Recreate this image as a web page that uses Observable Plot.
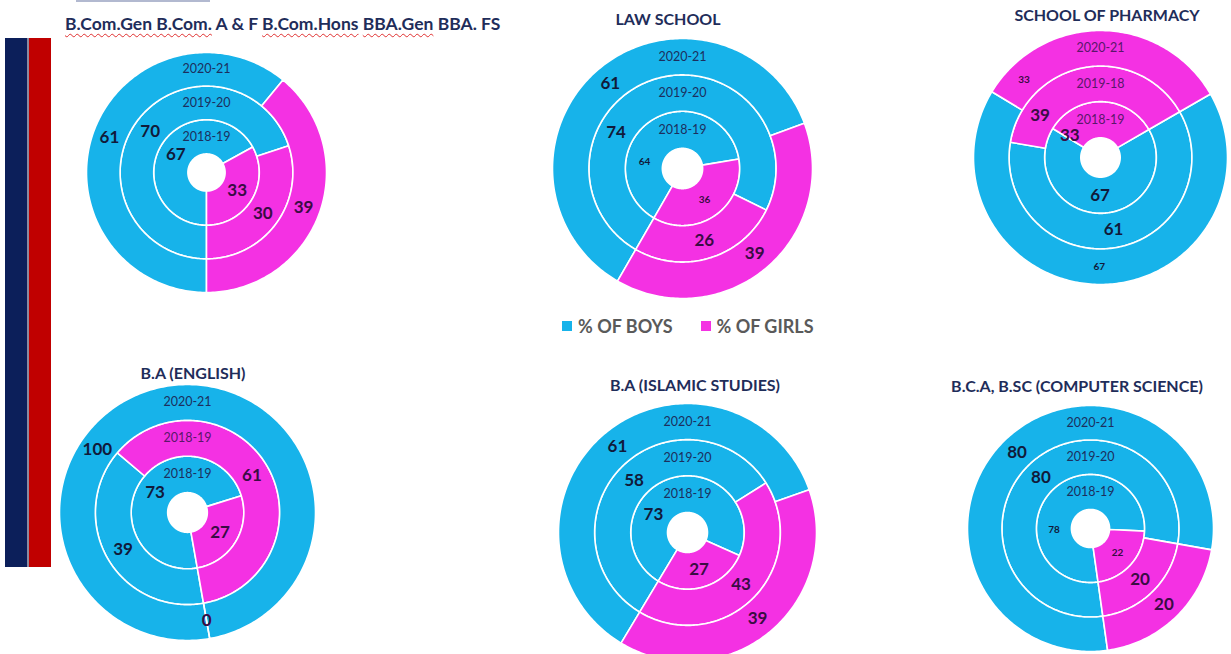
<!DOCTYPE html>
<html>
<head>
<meta charset="utf-8">
<script src="https://cdn.jsdelivr.net/npm/d3@7"></script>
<script src="https://cdn.jsdelivr.net/npm/@observablehq/plot@0.6"></script>
<style>
  html, body { margin: 0; padding: 0; background: #fff; }
  body { width: 1231px; height: 654px; position: relative; overflow: hidden; font-family: Lato, "Open Sans", sans-serif; }
  .abs { position: absolute; }
  .title { position: absolute; font-weight: bold; color: #1f2d5a; font-size: 16px; line-height: 20px; white-space: nowrap; }
  .title.first { font-size: 17.5px; }
  .sp { text-decoration: underline wavy #e03030; text-decoration-thickness: 1px; text-underline-offset: 3px; }
  .legend { position: absolute; top: 316px; left: 562px; display: flex; align-items: center; font-weight: bold; font-size: 18px; color: #5a5a5a; line-height: 20px; }
  .legend .sw { width: 10px; height: 10px; display: inline-block; margin-right: 6px; }
  .legend .item { display: flex; align-items: center; margin-right: 28px; }
</style>
</head>
<body>
<script>
// ---------- data ----------
const programs = [
  "B.Com.Gen B.Com. A & F B.Com.Hons BBA.Gen BBA. FS",
  "LAW SCHOOL",
  "SCHOOL OF PHARMACY",
  "B.A (ENGLISH)",
  "B.A (ISLAMIC STUDIES)",
  "B.C.A, B.SC (COMPUTER SCIENCE)"
];
// ring labels, inner -> outer
const yearLabels = [
  ["2018-19", "2019-20", "2020-21"],
  ["2018-19", "2019-20", "2020-21"],
  ["2018-19", "2019-18", "2020-21"],
  ["2018-19", "2018-19", "2020-21"],
  ["2018-19", "2019-20", "2020-21"],
  ["2018-19", "2019-20", "2020-21"]
];
const boysPct = [
  [67, 70, 61],
  [64, 74, 61],
  [67, 61, 67],
  [73, 39, 100],
  [73, 58, 61],
  [78, 80, 80]
];
const girlsPct = [
  [33, 30, 39],
  [36, 26, 39],
  [33, 39, 33],
  [27, 61, 0],
  [27, 43, 39],
  [22, 20, 20]
];
const series = ["% OF BOYS", "% OF GIRLS"];

// ---------- layout & style ----------
const BLUE = "#17b3ea", PINK = "#f431e3";
const layout = [
  { cx: 206,  cy: 172, r: 120, start: 180, title: { left: 65, y: 24 }, small: [] },
  { cx: 682,  cy: 168, r: 130, start: 210, title: { x: 668, y: 19 }, small: [0] },
  { cx: 1100, cy: 157, r: 127, start: 60,  title: { x: 1107, y: 15 }, small: [2] },
  { cx: 187,  cy: 512, r: 128, start: 170, title: { x: 193, y: 373 }, small: [] },
  { cx: 687,  cy: 532, r: 129, start: 211, title: { x: 695, y: 385 }, small: [] },
  { cx: 1090, cy: 528, r: 123, start: 172, title: { x: 1077, y: 386 }, small: [0] }
];
const ringFrac = [0.155, 0.44, 0.72, 1.0];
const valueColor = ["#111a3a", "#3a0c44"];
const yearColor = ["#1c2f5e", "#5a176a"];
const yearFont = 12.5, valueFont = 17, smallFont = 10;

// decorations
function addDiv(css, html) {
  const d = document.createElement("div");
  d.className = "abs";
  d.style.cssText = css;
  if (html) d.innerHTML = html;
  document.body.appendChild(d);
  return d;
}
addDiv("left:5px;top:38px;width:22px;height:529px;background:#0c1f5a;");
addDiv("left:29px;top:38px;width:22px;height:529px;background:#c00000;");
addDiv("left:27px;top:38px;width:2px;height:529px;background:#8a8aa0;");
addDiv("left:12px;top:-30px;width:30px;height:30px;border-radius:50%;border:3px solid #c8102e;box-sizing:border-box;");
addDiv("left:76px;top:0px;width:134px;height:2px;background:#7f8bb0;opacity:0.6;");

const TAU = Math.PI * 2, DEG = Math.PI / 180;
function norm(a) { return ((a % TAU) + TAU) % TAU; }

function buildPanel(k) {
  const L = layout[k], R = L.r, pad = 4, S = 2 * (R + pad);
  const pts = [], vlabels = [], ylabels = [];
  for (let i = 0; i < 3; i++) {
    const r0 = ringFrac[i] * R, r1 = ringFrac[i + 1] * R, rm = (r0 + r1) / 2;
    const vals = [boysPct[k][i], girlsPct[k][i]];
    const arcs = d3.pie().sort(null)
      .startAngle(L.start * DEG).endAngle(L.start * DEG + TAU)(vals);
    arcs.forEach((a, j) => {
      const id = `${i}-${j}`;
      const span = a.endAngle - a.startAngle;
      const n = Math.max(1, Math.ceil(span / DEG));
      const ring = [];
      for (let s = 0; s <= n; s++) {
        const t = a.startAngle + span * s / n;
        ring.push({ id, group: series[j], x: r1 * Math.sin(t), y: -r1 * Math.cos(t) });
      }
      for (let s = n; s >= 0; s--) {
        const t = a.startAngle + span * s / n;
        ring.push({ id, group: series[j], x: r0 * Math.sin(t), y: -r0 * Math.cos(t) });
      }
      ring.push({ ...ring[0] });
      pts.push(...ring);
      // value label at slice centroid; rotated aside if it would cover the ring's year label
      let m = (a.startAngle + a.endAngle) / 2;
      const hits = ang => Math.abs(rm * Math.sin(ang)) < 32 && Math.abs(-rm * Math.cos(ang) + rm) < 14;
      if (hits(m)) {
        m -= 45 * DEG;
        let guard = 0;
        while (hits(m) && guard++ < 12) m -= 5 * DEG;
      }
      vlabels.push({
        text: String(vals[j]), group: j,
        x: rm * Math.sin(m), y: -rm * Math.cos(m),
        size: L.small.includes(i) ? smallFont : valueFont
      });
    });
    const topSlice = arcs.findIndex(a => a.endAngle > a.startAngle && norm(0 - a.startAngle) < a.endAngle - a.startAngle);
    ylabels.push({ text: yearLabels[k][i], group: topSlice < 0 ? 0 : topSlice, x: 0, y: -rm });
  }
  const plot = Plot.plot({
    width: S, height: S, margin: 0,
    x: { domain: [-(R + pad), R + pad], range: [0, S], axis: null },
    y: { domain: [-(R + pad), R + pad], range: [0, S], axis: null },
    color: { domain: series, range: [BLUE, PINK] },
    style: { background: "transparent", overflow: "visible", fontFamily: "Lato" },
    marks: [
      Plot.line(pts, { x: "x", y: "y", z: "id", fill: "group", stroke: "white", strokeWidth: 1.6, strokeLinejoin: "round" }),
      ...[0, 1].map(g => Plot.text(ylabels.filter(d => d.group === g), {
        x: "x", y: "y", text: "text", fontSize: yearFont, fill: yearColor[g], fontFamily: "Lato"
      })),
      ...[0, 1].map(g => Plot.text(vlabels.filter(d => d.group === g), {
        x: "x", y: "y", text: "text", fontSize: d => d.size, fill: valueColor[g], fontWeight: "bold", fontFamily: "Lato"
      }))
    ]
  });
  const holder = addDiv(`left:${L.cx - R - pad}px;top:${L.cy - R - pad}px;width:${S}px;height:${S}px;`);
  holder.appendChild(plot);

  // title
  const t = document.createElement("div");
  t.className = "title";
  if (k === 0) {
    t.classList.add("first");
    t.innerHTML = programs[0]
      .replace("B.Com.Gen B.Com.", '<span class="sp">B.Com.Gen B.Com.</span>')
      .replace("B.Com.Hons", '<span class="sp">B.Com.Hons</span>')
      .replace("BBA.Gen", '<span class="sp">BBA.Gen</span>');
    t.style.left = L.title.left + "px";
  } else {
    t.textContent = programs[k];
    t.style.left = L.title.x + "px";
    t.style.transform = "translateX(-50%)";
  }
  t.style.top = (L.title.y - 10) + "px";
  document.body.appendChild(t);
}

for (let k = 0; k < programs.length; k++) buildPanel(k);

// legend
const lg = document.createElement("div");
lg.className = "legend";
lg.innerHTML = series.map((s, j) =>
  `<span class="item"><span class="sw" style="background:${[BLUE, PINK][j]}"></span>${s}</span>`).join("");
document.body.appendChild(lg);
</script>
</body>
</html>
